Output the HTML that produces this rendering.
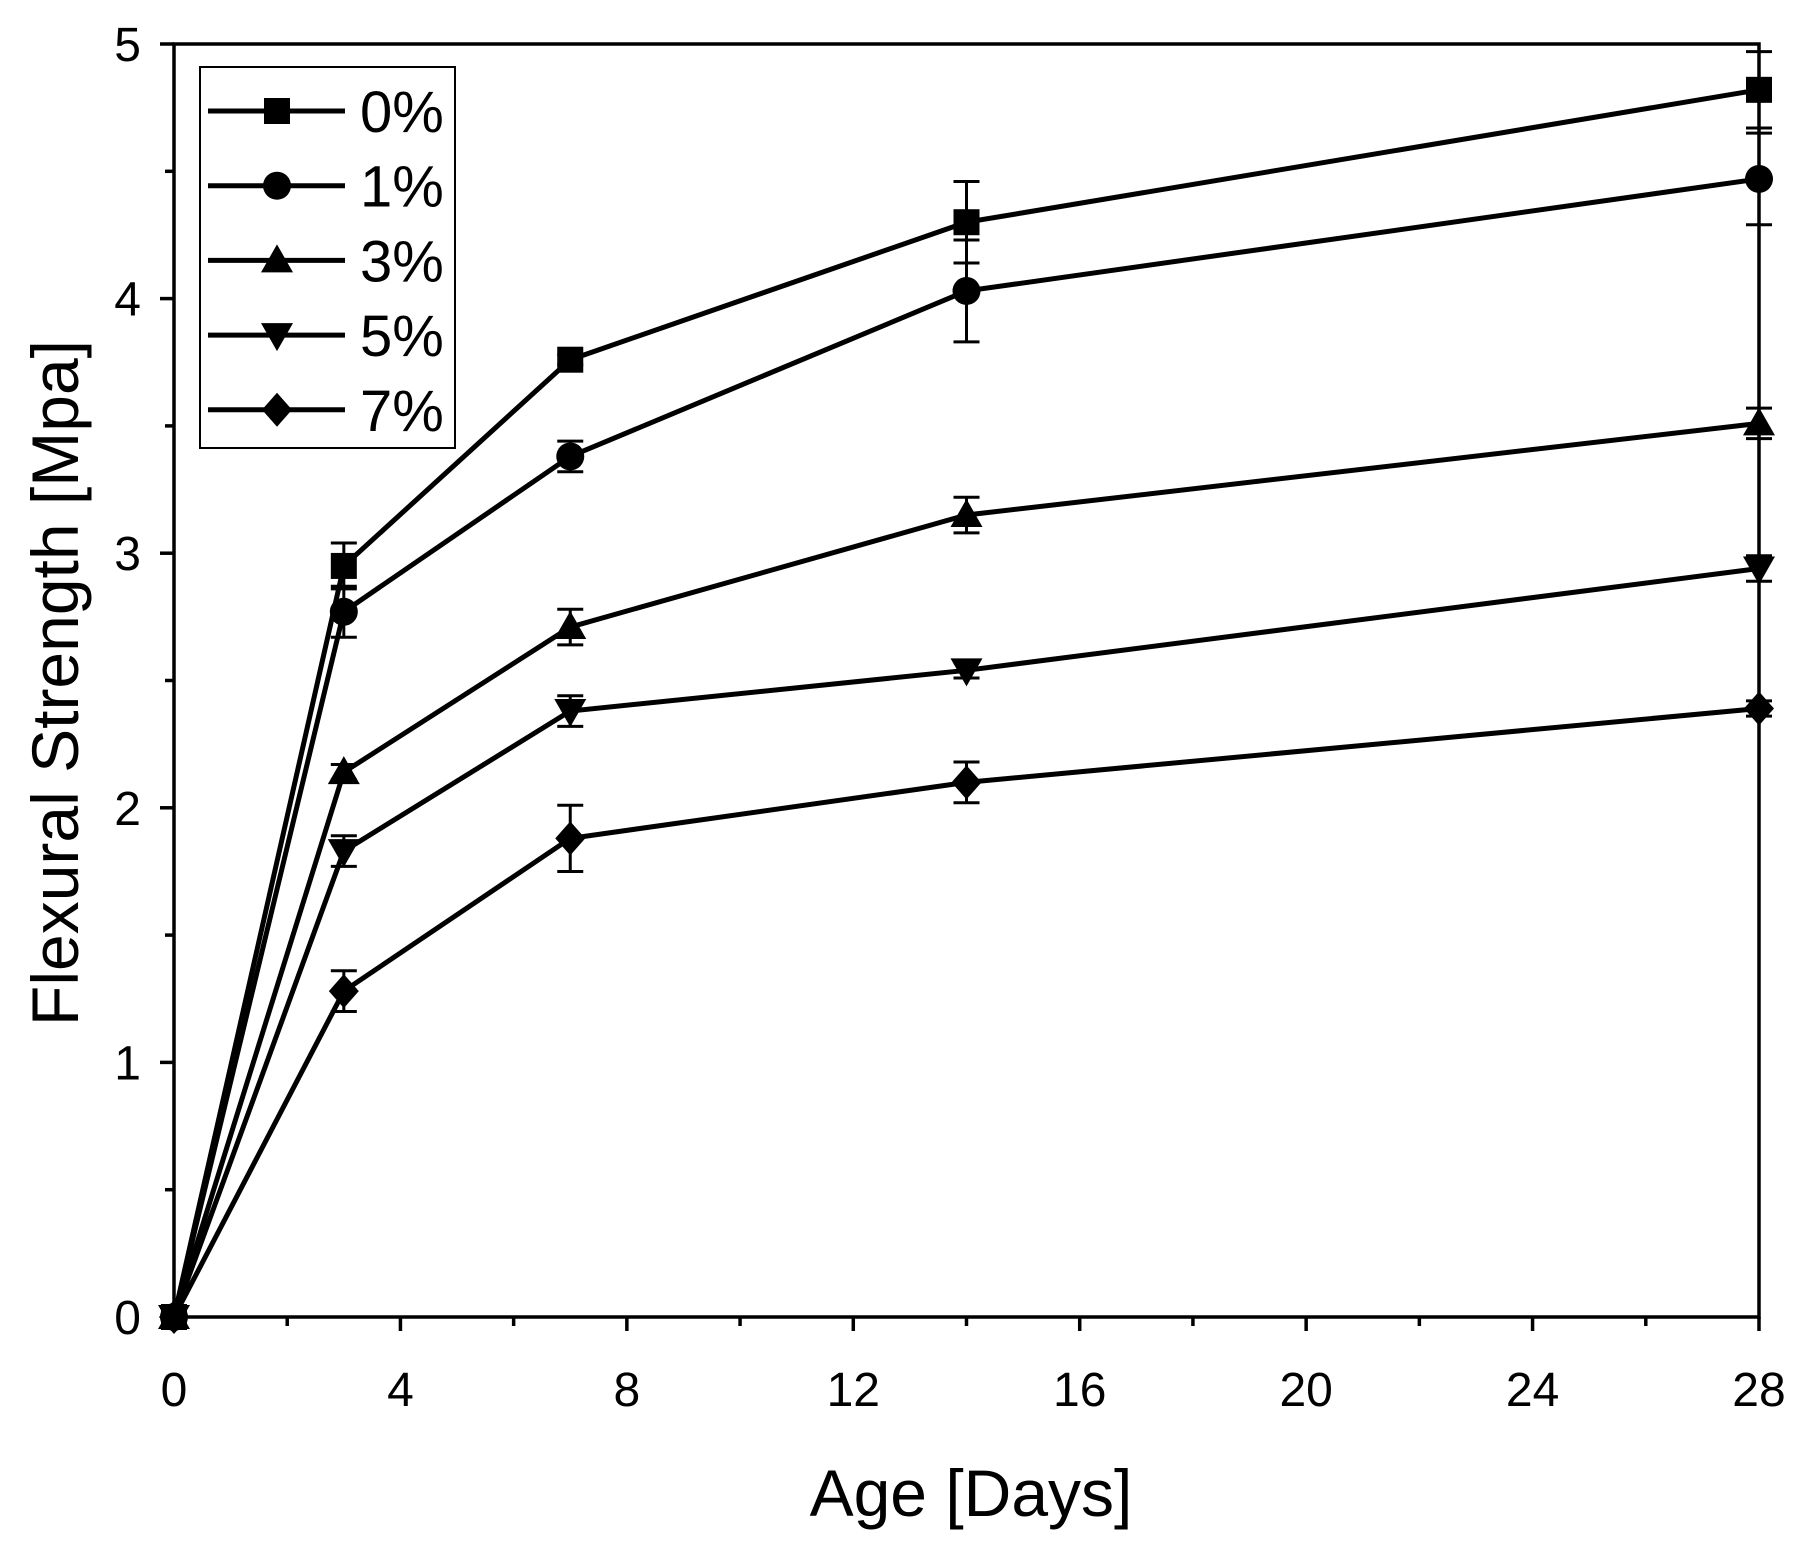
<!DOCTYPE html>
<html><head><meta charset="utf-8"><style>body{margin:0;background:#fff}svg{display:block}text{font-family:"Liberation Sans",sans-serif;fill:#000}</style></head>
<body>
<svg id="chart" width="1806" height="1542" viewBox="0 0 1806 1542" xmlns="http://www.w3.org/2000/svg"></svg>
<script>
const days = [0, 3, 7, 14, 28];
const seriesNames = ["0%", "1%", "3%", "5%", "7%"];
const markers = ["square", "circle", "triangle", "invtriangle", "diamond"];
const s0 = [0, 2.95, 3.76, 4.30, 4.82];
const s1 = [0, 2.77, 3.38, 4.03, 4.47];
const s3 = [0, 2.14, 2.71, 3.15, 3.51];
const s5 = [0, 1.83, 2.38, 2.54, 2.94];
const s7 = [0, 1.28, 1.88, 2.10, 2.39];
const e0 = [0, 0.09, 0.02, 0.16, 0.15];
const e1 = [0, 0.10, 0.06, 0.20, 0.18];
const e3 = [0, 0.03, 0.07, 0.07, 0.06];
const e5 = [0, 0.06, 0.06, 0.03, 0.05];
const e7 = [0, 0.08, 0.13, 0.08, 0.03];
const xTicks = [0, 4, 8, 12, 16, 20, 24, 28];
const yTicks = [0, 1, 2, 3, 4, 5];

const NS = "http://www.w3.org/2000/svg";
const svg = document.getElementById("chart");
const X0 = 174, X1 = 1759, Y0 = 1317, Y1 = 44;
const sx = v => X0 + (v - 0) / 28 * (X1 - X0);
const sy = v => Y0 - v / 5 * (Y0 - Y1);
function el(tag, attrs, parent) {
  const e = document.createElementNS(NS, tag);
  for (const k in attrs) e.setAttribute(k, attrs[k]);
  (parent || svg).appendChild(e);
  return e;
}
function marker(type, x, y, g) {
  let m;
  if (type === "square") m = el("rect", {x: x - 13, y: y - 13, width: 26, height: 26}, g);
  else if (type === "circle") m = el("circle", {cx: x, cy: y, r: 14}, g);
  else if (type === "triangle") m = el("polygon", {points: `${x},${y-16} ${x+16},${y+12} ${x-16},${y+12}`}, g);
  else if (type === "invtriangle") m = el("polygon", {points: `${x},${y+16} ${x+16},${y-12} ${x-16},${y-12}`}, g);
  else m = el("polygon", {points: `${x},${y-17} ${x+15},${y} ${x},${y+17} ${x-15},${y}`}, g);
  m.setAttribute("fill", "#000");
  return m;
}
const axes = el("g", {});


const frame = el("rect", {x: X0, y: Y1, width: X1 - X0, height: Y0 - Y1, fill: "none", stroke: "#000", "stroke-width": 3.5}, axes);


for (let d = 0; d <= 28; d += 2) {
  const major = d % 4 === 0;
  const t = el("line", {x1: sx(d), x2: sx(d), y1: Y0, y2: Y0 + (major ? 14 : 9), stroke: "#000", "stroke-width": 3.5}, axes);
  
  
}
for (let v = 0; v <= 5; v += 0.5) {
  const major = Math.abs(v - Math.round(v)) < 1e-6;
  const t = el("line", {x1: X0, x2: X0 - (major ? 14 : 9), y1: sy(v), y2: sy(v), stroke: "#000", "stroke-width": 3.5}, axes);
  
  
}
xTicks.forEach(v => {
  const t = el("text", {x: sx(v), y: 1406, "font-size": 48, "text-anchor": "middle"}, axes);
  t.textContent = v;
  
  
});
yTicks.forEach(v => {
  const t = el("text", {x: 141, y: sy(v) + 17, "font-size": 48, "text-anchor": "end"}, axes);
  t.textContent = v;
  
  
});
const xt = el("text", {x: 971, y: 1516, "font-size": 66, "text-anchor": "middle"});
xt.textContent = "Age [Days]";


const yt = el("text", {x: 0, y: 0, "font-size": 66, "text-anchor": "middle", transform: "translate(78,683) rotate(-90)"});
yt.textContent = "Flexural Strength [Mpa]";



const allVals = [s0, s1, s3, s5, s7];
const allErr = [e0, e1, e3, e5, e7];
allVals.forEach((vals, i) => {
  const g = el("g", {});
  
  
  const pts = days.map((d, j) => sx(d) + "," + sy(vals[j])).join(" ");
  const line = el("polyline", {points: pts, fill: "none", stroke: "#000", "stroke-width": 5}, g);
  
  
  days.forEach((d, j) => {
    const e = allErr[i][j];
    if (e > 0) {
      const x = sx(d), yt2 = sy(vals[j] + e), yb = sy(vals[j] - e);
      const eb = el("path", {d: `M${x},${yt2}V${yb}M${x-13},${yt2}H${x+13}M${x-13},${yb}H${x+13}`, stroke: "#000", "stroke-width": 3, fill: "none"}, g);
      
      
    }
    const m = marker(markers[i], sx(d), sy(vals[j]), g);
    
    
  });
});

const lg = el("g", {});


const lb = el("rect", {x: 200, y: 67, width: 255, height: 381, fill: "#fff", stroke: "#000", "stroke-width": 2}, lg);


seriesNames.forEach((n, i) => {
  const y = 111 + i * 74.7;
  const eg = el("g", {}, lg);
  
  
  el("line", {x1: 208, x2: 345, y1: y, y2: y, stroke: "#000", "stroke-width": 5}, eg);
  marker(markers[i], 277, y, eg);
  const t = el("text", {x: 360, y: y + 21, "font-size": 58}, eg);
  t.textContent = n;
});
</script>
</body></html>
